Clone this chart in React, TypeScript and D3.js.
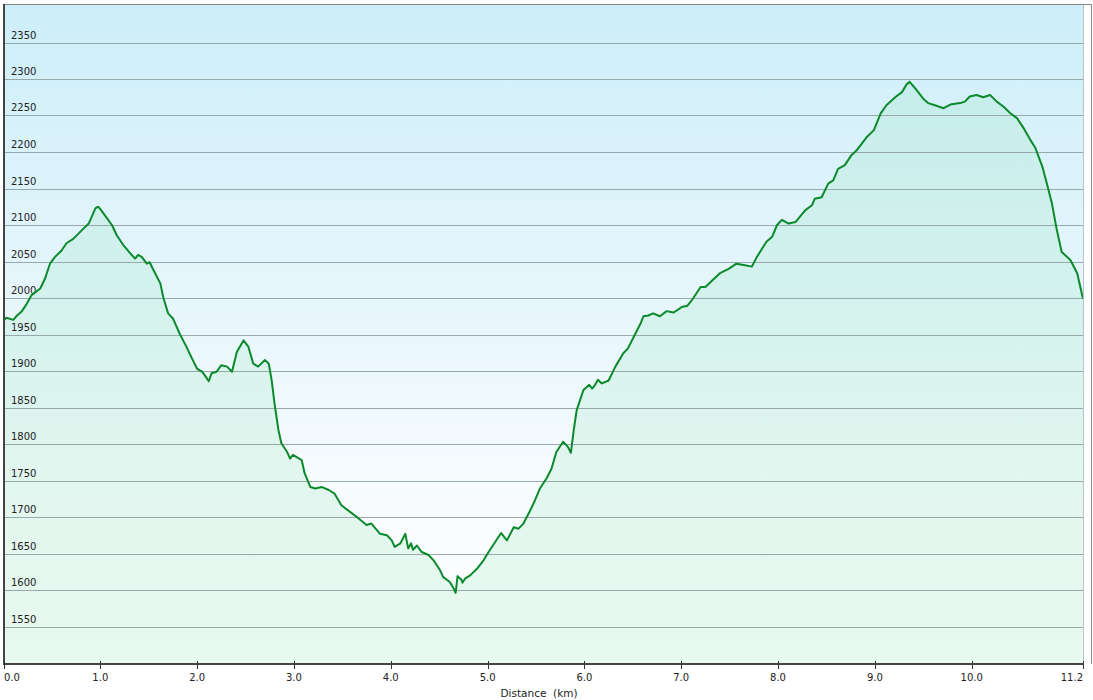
import React, { useEffect, useRef } from 'react';
import * as d3 from 'd3';

// distance (km)
const distanceKm = [
  0.0, 0.03, 0.1, 0.14, 0.19, 0.24, 0.29, 0.38, 0.43, 0.48, 0.53, 0.6, 0.65, 0.72, 0.81, 0.88, 0.95, 0.98,
  1.01, 1.07, 1.12, 1.17, 1.24, 1.31, 1.36, 1.39, 1.43, 1.48, 1.51, 1.55, 1.62, 1.65, 1.7, 1.75, 1.82, 1.89, 1.94,
  2.0, 2.05, 2.08, 2.12, 2.15, 2.2, 2.25, 2.31, 2.36, 2.41, 2.48, 2.53, 2.58, 2.63, 2.7, 2.74, 2.77, 2.8, 2.84, 2.87, 2.93, 2.96, 2.99,
  3.08, 3.11, 3.17, 3.22, 3.29, 3.36, 3.42, 3.49, 3.58, 3.65, 3.75, 3.8, 3.89, 3.96,
  4.01, 4.04, 4.1, 4.15, 4.18, 4.21, 4.23, 4.27, 4.32, 4.39, 4.44, 4.51, 4.54, 4.61, 4.65, 4.67, 4.69, 4.73, 4.74, 4.77, 4.82, 4.89, 4.96,
  5.01, 5.08, 5.14, 5.2, 5.27, 5.32, 5.37, 5.44, 5.49, 5.54, 5.61, 5.66, 5.71, 5.78, 5.83, 5.86, 5.89, 5.92, 5.99,
  6.05, 6.08, 6.11, 6.14, 6.18, 6.25, 6.32, 6.4, 6.45, 6.51, 6.58, 6.61, 6.66, 6.71, 6.78, 6.85, 6.92,
  7.01, 7.06, 7.11, 7.2, 7.25, 7.32, 7.4, 7.49, 7.57, 7.66, 7.73, 7.78, 7.88, 7.94, 7.99,
  8.04, 8.11, 8.18, 8.28, 8.35, 8.38, 8.45, 8.52, 8.57, 8.62, 8.69, 8.76, 8.81, 8.92, 8.99,
  9.06, 9.12, 9.21, 9.28, 9.33, 9.36, 9.43, 9.5, 9.55, 9.62, 9.71, 9.78, 9.88, 9.93, 9.98,
  10.05, 10.12, 10.19, 10.26, 10.33, 10.4, 10.47, 10.54, 10.6, 10.66, 10.73, 10.78, 10.83, 10.88, 10.93,
  11.02, 11.09, 11.15,
];

// elevation (m)
const elevationM = [
  1969, 1973, 1970, 1976, 1982, 1992, 2004, 2013, 2027, 2047, 2056, 2065, 2075, 2081, 2093, 2102, 2123, 2125,
  2120, 2109, 2100, 2086, 2072, 2061, 2054, 2059, 2056, 2047, 2049, 2038, 2020, 2001, 1979, 1972, 1951, 1933, 1919,
  1903, 1899, 1894, 1886, 1897, 1899, 1908, 1906, 1899, 1926, 1942, 1933, 1910, 1906, 1915, 1910, 1887, 1855, 1819, 1801, 1789, 1780, 1785,
  1778, 1760, 1741, 1739, 1741, 1737, 1732, 1716, 1707, 1700, 1689, 1691, 1677, 1675,
  1668, 1659, 1664, 1677, 1657, 1664, 1655, 1661, 1652, 1648, 1641, 1627, 1618, 1611, 1602, 1596, 1619, 1614, 1610, 1616, 1620, 1629, 1641,
  1652, 1666, 1678, 1668, 1686, 1684, 1691, 1709, 1723, 1739, 1753, 1766, 1789, 1803, 1796, 1788, 1819, 1846, 1874,
  1881, 1876, 1881, 1888, 1883, 1887, 1906, 1924, 1931, 1947, 1965, 1975, 1976, 1979, 1975, 1982, 1980,
  1988, 1989, 1997, 2015, 2015, 2024, 2034, 2040, 2047, 2045, 2043, 2056, 2077, 2084, 2100,
  2107, 2102, 2104, 2120, 2127, 2136, 2138, 2157, 2161, 2177, 2182, 2196, 2202, 2221, 2230,
  2253, 2264, 2275, 2282, 2293, 2296, 2285, 2273, 2267, 2264, 2260, 2265, 2267, 2269, 2276,
  2278, 2275, 2278, 2269, 2262, 2253, 2246, 2232, 2218, 2205, 2180, 2155, 2129, 2093, 2063,
  2052, 2034, 1999,
];

const yTicks = [1550, 1600, 1650, 1700, 1750, 1800, 1850, 1900, 1950, 2000, 2050, 2100, 2150, 2200, 2250, 2300, 2350];
const xTicks = [0, 1, 2, 3, 4, 5, 6, 7, 8, 9, 10];
const totalKm = 11.15;
const endLabel = '11.2';

const W = 1093;
const H = 700;

const ElevationProfile: React.FC = () => {
  const svgRef = useRef<SVGSVGElement>(null);

  useEffect(() => {
    if (!svgRef.current) return;
    const svg = d3.select(svgRef.current);
    svg.selectAll('*').remove();

    const left = 3.5;
    const right = 1083;
    const top = 5;
    const axisY = 664;

    const x = d3.scaleLinear().domain([0, totalKm]).range([left, right]);
    const y = d3.scaleLinear().domain([1500, 2400]).range([663, 6]);

    const data = distanceKm.map((d, i) => ({ d, e: elevationM[i] }));

    const defs = svg.append('defs');
    const bg = defs
      .append('linearGradient')
      .attr('id', 'bgGrad')
      .attr('x1', 0).attr('y1', 0).attr('x2', 0).attr('y2', 1);
    bg.append('stop').attr('offset', '0%').attr('stop-color', '#cdeef9');
    bg.append('stop').attr('offset', '72%').attr('stop-color', '#f6fbfe');
    bg.append('stop').attr('offset', '100%').attr('stop-color', '#ffffff');

    const fill = defs
      .append('linearGradient')
      .attr('id', 'areaGrad')
      .attr('x1', 0).attr('y1', 0).attr('x2', 0).attr('y2', 1);
    fill.append('stop').attr('offset', '0%').attr('stop-color', '#8ee0b4').attr('stop-opacity', 0.2);
    fill.append('stop').attr('offset', '100%').attr('stop-color', '#8ee6b0').attr('stop-opacity', 0.2);

    // plot background
    svg.append('rect')
      .attr('x', left).attr('y', top)
      .attr('width', right - left).attr('height', axisY - top)
      .attr('fill', 'url(#bgGrad)');

    // area under profile
    const area = d3.area<{ d: number; e: number }>()
      .x((p) => x(p.d))
      .y0(axisY)
      .y1((p) => y(p.e));
    svg.append('path')
      .datum(data)
      .attr('d', area)
      .attr('fill', 'url(#areaGrad)');

    // grid lines + labels
    const grid = svg.append('g');
    grid.selectAll('line')
      .data(yTicks)
      .enter()
      .append('line')
      .attr('x1', left).attr('x2', right)
      .attr('y1', (v) => Math.round(y(v)) + 0.5)
      .attr('y2', (v) => Math.round(y(v)) + 0.5)
      .attr('stroke', '#98a9ab')
      .attr('stroke-width', 1);
    grid.selectAll('text')
      .data(yTicks)
      .enter()
      .append('text')
      .attr('x', 11)
      .attr('y', (v) => Math.round(y(v)) - 4.5)
      .attr('font-family', 'DejaVu Sans, Verdana, sans-serif')
      .attr('font-size', 10)
      .attr('fill', '#222')
      .text((v) => v);

    // profile line
    const line = d3.line<{ d: number; e: number }>()
      .x((p) => x(p.d))
      .y((p) => y(p.e));
    svg.append('path')
      .datum(data)
      .attr('d', line)
      .attr('fill', 'none')
      .attr('stroke', '#0b8a2c')
      .attr('stroke-width', 2)
      .attr('stroke-linejoin', 'round');

    // frame
    svg.append('line')
      .attr('x1', 4).attr('x2', 1092).attr('y1', 4.5).attr('y2', 4.5)
      .attr('stroke', '#8a8a8a').attr('stroke-width', 1);
    svg.append('line')
      .attr('x1', right + 0.5).attr('x2', right + 0.5).attr('y1', top).attr('y2', axisY)
      .attr('stroke', '#b8c4c6').attr('stroke-width', 1);
    svg.append('line')
      .attr('x1', 1091.5).attr('x2', 1091.5).attr('y1', 4).attr('y2', axisY)
      .attr('stroke', '#8a8a8a').attr('stroke-width', 1);
    svg.append('line')
      .attr('x1', 4).attr('x2', 4).attr('y1', 4).attr('y2', axisY + 1)
      .attr('stroke', '#444').attr('stroke-width', 2);

    // x axis
    const xAxis = svg.append('g');
    xAxis.append('line')
      .attr('x1', 3).attr('x2', right + 1).attr('y1', axisY).attr('y2', axisY)
      .attr('stroke', '#444').attr('stroke-width', 2);

    const tickVals = [...xTicks, totalKm];
    xAxis.selectAll('.tick')
      .data(tickVals)
      .enter()
      .append('line')
      .attr('class', 'tick')
      .attr('x1', (v) => Math.round(x(v)) + 0.5)
      .attr('x2', (v) => Math.round(x(v)) + 0.5)
      .attr('y1', axisY - 3)
      .attr('y2', axisY + 5)
      .attr('stroke', '#333')
      .attr('stroke-width', 1);

    xAxis.selectAll('.lbl')
      .data(tickVals)
      .enter()
      .append('text')
      .attr('class', 'lbl')
      .attr('x', (v, i) => (i === 0 ? 4 : x(v)))
      .attr('y', 681)
      .attr('text-anchor', (v, i) => (i === 0 ? 'start' : i === tickVals.length - 1 ? 'end' : 'middle'))
      .attr('font-family', 'DejaVu Sans, Verdana, sans-serif')
      .attr('font-size', 10)
      .attr('fill', '#222')
      .text((v, i) => (i === tickVals.length - 1 ? endLabel : d3.format('.1f')(v)));

    svg.append('text')
      .attr('x', 539)
      .attr('y', 697)
      .attr('text-anchor', 'middle')
      .attr('font-family', 'DejaVu Sans, Verdana, sans-serif')
      .attr('font-size', 10.5)
      .attr('fill', '#222')
      .attr('xml:space', 'preserve')
      .text('Distance  (km)');

    return () => {
      svg.selectAll('*').remove();
    };
  }, []);

  return (
    <svg
      ref={svgRef}
      width={W}
      height={H}
      style={{ position: 'absolute', left: 0, top: 0, display: 'block', background: '#fff' }}
    />
  );
};

export default function App() {
  return <ElevationProfile />;
}
